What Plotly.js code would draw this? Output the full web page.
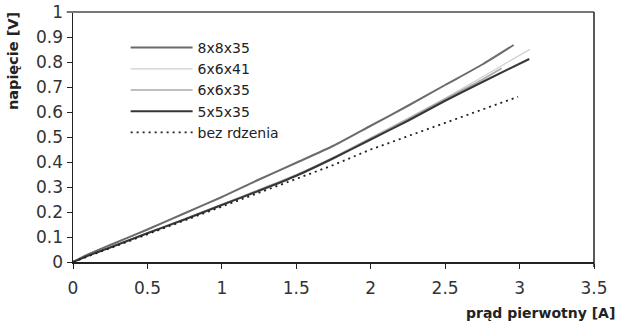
<!DOCTYPE html>
<html>
<head>
<meta charset="utf-8">
<script src="https://cdn.plot.ly/plotly-3.0.1.min.js"></script>
<style>html,body{margin:0;padding:0;background:#fff;}#chart{width:619px;height:326px;}</style>
</head>
<body>
<div id="chart"></div>
<script>
// Series names
const seriesNames = ["8x8x35", "6x6x41", "6x6x35", "5x5x35", "bez rdzenia"];

// prąd pierwotny [A] / napięcie [V]
const x_8x8x35 = [0, 0.1, 0.25, 0.5, 0.75, 1.0, 1.25, 1.5, 1.75, 2.0, 2.25, 2.5, 2.75, 2.96];
const y_8x8x35 = [0, 0.03, 0.068, 0.13, 0.195, 0.26, 0.33, 0.397, 0.465, 0.545, 0.625, 0.708, 0.79, 0.868];

const x_6x6x41 = [0, 0.1, 0.25, 0.5, 0.75, 1.0, 1.25, 1.5, 1.75, 2.0, 2.25, 2.5, 2.75, 3.07];
const y_6x6x41 = [0, 0.026, 0.06, 0.117, 0.173, 0.23, 0.29, 0.35, 0.42, 0.497, 0.575, 0.655, 0.74, 0.851];

const x_6x6x35 = [0, 0.1, 0.25, 0.5, 0.75, 1.0, 1.25, 1.5, 1.75, 2.0, 2.25, 2.5, 2.75, 2.88];
const y_6x6x35 = [0, 0.026, 0.059, 0.116, 0.172, 0.23, 0.288, 0.348, 0.418, 0.495, 0.572, 0.652, 0.73, 0.775];

const x_5x5x35 = [0, 0.1, 0.25, 0.5, 0.75, 1.0, 1.25, 1.5, 1.75, 2.0, 2.25, 2.5, 2.75, 3.065];
const y_5x5x35 = [0, 0.025, 0.058, 0.115, 0.17, 0.228, 0.285, 0.345, 0.415, 0.49, 0.565, 0.645, 0.72, 0.812];

const x_bez = [0, 0.25, 0.5, 0.75, 1.0, 1.25, 1.5, 1.75, 2.0, 2.25, 2.5, 2.75, 2.99];
const y_bez = [0, 0.055, 0.11, 0.166, 0.222, 0.276, 0.33, 0.388, 0.45, 0.503, 0.557, 0.61, 0.661];

const xTickVals = [0, 0.5, 1, 1.5, 2, 2.5, 3, 3.5];
const xTickText = ["0", "0.5", "1", "1.5", "2", "2.5", "3", "3.5"];
const yTickVals = [0, 0.1, 0.2, 0.3, 0.4, 0.5, 0.6, 0.7, 0.8, 0.9, 1];
const yTickText = ["0", "0.1", "0.2", "0.3", "0.4", "0.5", "0.6", "0.7", "0.8", "0.9", "1"];

const xTitle = "prąd pierwotny [A]";
const yTitle = "napięcie [V]";

const FONT = "'DejaVu Sans', Arial, sans-serif";

const traces = [
  {x: x_8x8x35, y: y_8x8x35, name: seriesNames[0], mode: "lines", line: {color: "#6b6b6b", width: 2, shape: "spline", smoothing: 0.6}},
  {x: x_6x6x41, y: y_6x6x41, name: seriesNames[1], mode: "lines", line: {color: "#cdcdcd", width: 1.2, shape: "spline", smoothing: 0.6}},
  {x: x_6x6x35, y: y_6x6x35, name: seriesNames[2], mode: "lines", line: {color: "#a9a9a9", width: 1.6, shape: "spline", smoothing: 0.6}},
  {x: x_5x5x35, y: y_5x5x35, name: seriesNames[3], mode: "lines", line: {color: "#363636", width: 2, shape: "spline", smoothing: 0.6}},
  {x: x_bez, y: y_bez, name: seriesNames[4], mode: "lines", line: {color: "#222222", width: 1.8, dash: "2px,4px"}}
];

const axisCommon = {
  showgrid: false, zeroline: false, showline: true,
  linecolor: "#222", linewidth: 1.5,
  ticks: "outside", ticklen: 5, tickcolor: "#222", tickwidth: 1,
  tickfont: {family: FONT, size: 17, color: "#333"},
  fixedrange: true
};

const layout = {
  width: 619, height: 326,
  margin: {l: 73, r: 25, t: 12, b: 64, pad: 0},
  paper_bgcolor: "#fff", plot_bgcolor: "#fff",
  showlegend: true,
  legend: {
    x: 0.101, y: 0.92, xanchor: "left", yanchor: "top",
    bgcolor: "rgba(0,0,0,0)", borderwidth: 0,
    font: {family: FONT, size: 14, color: "#222"},
    itemwidth: 62, tracegroupgap: 0
  },
  xaxis: Object.assign({}, axisCommon, {range: [0, 3.5], tickvals: xTickVals, ticktext: xTickText, ticklabelstandoff: 5}),
  yaxis: Object.assign({}, axisCommon, {range: [0, 1], tickvals: yTickVals, ticktext: yTickText}),
  shapes: [
    {type: "line", xref: "paper", yref: "paper", x0: -0.012, x1: 1, y0: 1, y1: 1, line: {color: "#777", width: 2}},
    {type: "line", xref: "paper", yref: "paper", x0: 1, x1: 1, y0: -0.02, y1: 1, line: {color: "#222", width: 1.5}}
  ],
  annotations: [
    {text: "<b>" + xTitle + "</b>", xref: "paper", yref: "paper", x: 1.044, y: -0.165, xanchor: "right", yanchor: "top",
     showarrow: false, font: {family: FONT, size: 14, color: "#222"}},
    {text: "<b>" + yTitle + "</b>", xref: "paper", yref: "paper", x: -0.115, y: 1.008, xanchor: "center", yanchor: "top",
     textangle: -90, showarrow: false, font: {family: FONT, size: 14.5, color: "#222"}}
  ]
};

Plotly.newPlot("chart", traces, layout, {staticPlot: true, displayModeBar: false});
</script>
</body>
</html>
